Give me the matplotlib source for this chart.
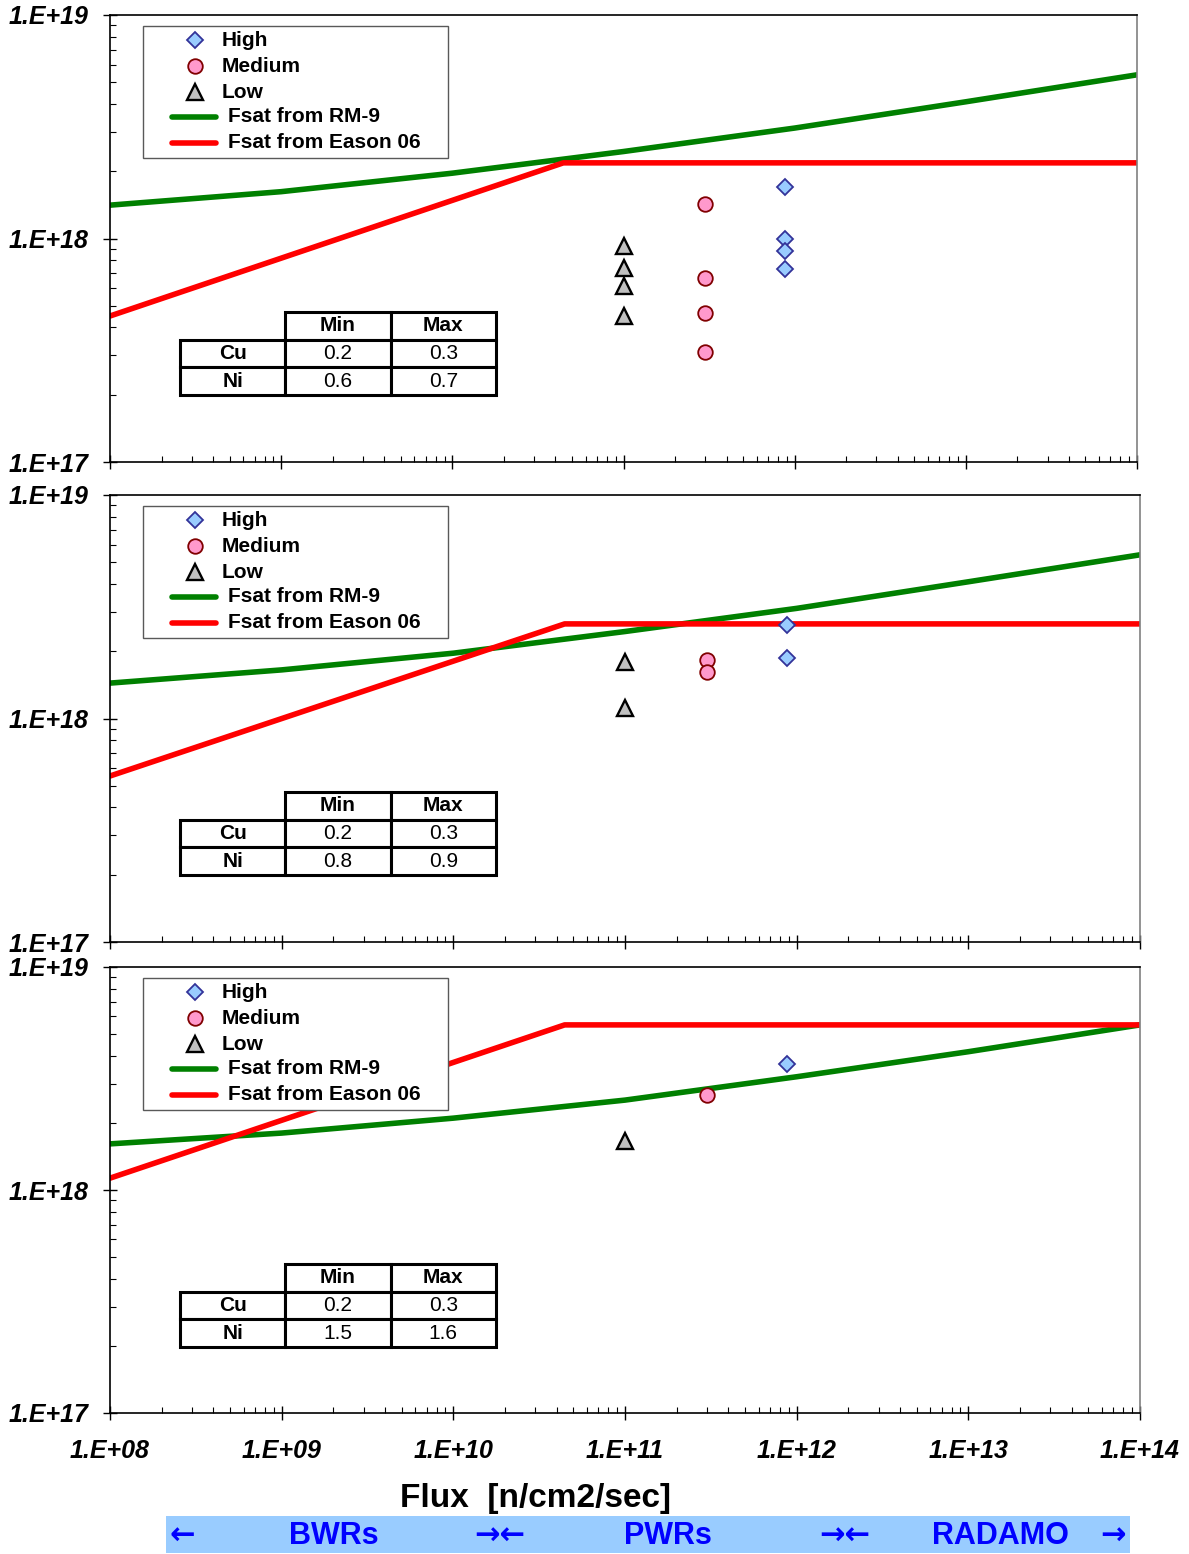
import math
import matplotlib
matplotlib.use("Agg")
import matplotlib.pyplot as plt
from matplotlib.lines import Line2D
from matplotlib.patches import Rectangle
from matplotlib.ticker import LogLocator, NullFormatter, FuncFormatter, FixedLocator

plt.rcParams["font.family"] = ["Liberation Sans", "DejaVu Sans"]

# --- data ---------------------------------------------------------------
flux_decades = [1e8, 1e9, 1e10, 1e11, 1e12, 1e13, 1e14]
fsat_decades = [1e17, 1e18, 1e19]
rm9_top = [1.41e18, 1.62e18, 1.96e18, 2.45e18, 3.12e18, 4.09e18, 5.40e18]
rm9_mid = [1.44e18, 1.65e18, 1.96e18, 2.45e18, 3.11e18, 4.09e18, 5.40e18]
rm9_bot = [1.61e18, 1.80e18, 2.10e18, 2.53e18, 3.22e18, 4.17e18, 5.50e18]

eason_flux = [1e8, 4.45e10, 1e14]
eason_top = [4.5e17, 2.18e18, 2.18e18]
eason_mid = [5.53e17, 2.65e18, 2.65e18]
eason_bot = [1.13e18, 5.5e18, 5.5e18]

high_flux, med_flux, low_flux = 8.8e11, 3.0e11, 1.0e11
high_top = [1.70e18, 1.00e18, 8.8e17, 7.3e17]
med_top = [1.43e18, 6.66e17, 4.64e17, 3.11e17]
low_top = [9.25e17, 7.38e17, 6.13e17, 4.5e17]
high_mid = [2.62e18, 1.87e18]
med_mid = [1.83e18, 1.62e18]
low_mid = [1.79e18, 1.11e18]
high_bot = [3.67e18]
med_bot = [2.67e18]
low_bot = [1.66e18]

cu_range = ["0.2", "0.3"]
ni_top = ["0.6", "0.7"]
ni_mid = ["0.8", "0.9"]
ni_bot = ["1.5", "1.6"]

legend_labels = ["High", "Medium", "Low", "Fsat from RM-9", "Fsat from Eason 06"]

panels = [
    (rm9_top, eason_top, high_top, med_top, low_top, ni_top),
    (rm9_mid, eason_mid, high_mid, med_mid, low_mid, ni_mid),
    (rm9_bot, eason_bot, high_bot, med_bot, low_bot, ni_bot),
]

# --- figure -------------------------------------------------------------
W, H = 1189, 1554
fig = plt.figure(figsize=(W / 100, H / 100), dpi=100)


def fx(px):
    return px / W


def fy(py):
    return 1 - py / H


# pixel boxes (left, top, right, bottom)
boxes = [(110, 15, 1137, 462), (110, 495, 1140, 942), (110, 967, 1140, 1413)]

green = "#008000"
red = "#FF0000"
tick_font = dict(fontsize=18, fontweight="bold", fontstyle="italic")
styles = {
    "High": dict(marker="D", ms=8.5, mfc="#99CCFF", mec="#333399", mew=1.3),
    "Medium": dict(marker="o", ms=10.5, mfc="#FF99CC", mec="#800000", mew=1.3),
    "Low": dict(marker="^", ms=11.5, mfc="#C0C0C0", mec="black", mew=1.7),
}


def fmt(v, pos):
    return "1.E+%02d" % round(math.log10(v))


for i, ((l, t, r, b), (rm9, eason, hi, me, lo, ni)) in enumerate(zip(boxes, panels)):
    ax = fig.add_axes([fx(l), fy(b), (r - l) / W, (b - t) / H])
    ax.set_xscale("log")
    ax.set_yscale("log")
    ax.set_xlim(1e8, 1e14)
    ax.set_ylim(1e17, 1e19)

    ax.plot(flux_decades, rm9, color=green, lw=4, solid_capstyle="round", zorder=2)
    ax.plot(eason_flux, eason, color=red, lw=4, solid_capstyle="round", zorder=2)

    ax.plot([high_flux] * len(hi), hi, ls="none", zorder=4, **styles["High"])
    ax.plot([med_flux] * len(me), me, ls="none", zorder=4, **styles["Medium"])
    ax.plot([low_flux] * len(lo), lo, ls="none", zorder=4, **styles["Low"])

    # axes styling
    for s in ["left", "top", "bottom"]:
        ax.spines[s].set_linewidth(1.2)
        ax.spines[s].set_color("black")
    ax.spines["right"].set_color("0.5")
    ax.spines["right"].set_linewidth(1.2)

    ax.xaxis.set_major_locator(FixedLocator(flux_decades))
    ax.xaxis.set_minor_locator(LogLocator(base=10, subs=range(2, 10), numticks=100))
    ax.yaxis.set_major_locator(FixedLocator(fsat_decades))
    ax.yaxis.set_minor_locator(LogLocator(base=10, subs=range(2, 10), numticks=100))
    ax.xaxis.set_minor_formatter(NullFormatter())
    ax.yaxis.set_minor_formatter(NullFormatter())
    ax.yaxis.set_major_formatter(FuncFormatter(fmt))
    ax.xaxis.set_major_formatter(FuncFormatter(fmt))
    ax.tick_params(which="major", direction="inout", length=9.6, width=1.0, color="black")
    ax.tick_params(which="minor", direction="in", length=4.3, width=0.8, color="black")
    ax.tick_params(axis="y", which="major", pad=11)
    ax.tick_params(axis="x", which="major", pad=14)
    for lab in ax.get_yticklabels():
        lab.set(**tick_font)
    if i == 2:
        for lab in ax.get_xticklabels():
            lab.set(**tick_font)
    else:
        ax.tick_params(axis="x", labelbottom=False)

    # legend box, drawn by hand to follow the original spacing
    fig.patches.append(Rectangle((fx(143), fy(t + 143)), (448 - 143) / W, 132 / H,
                                 transform=fig.transFigure, facecolor="white",
                                 edgecolor="0.35", lw=1.0, zorder=5))
    rows = [t + 25, t + 51, t + 77, t + 102, t + 128]
    for name, ry in zip(legend_labels[:3], rows[:3]):
        fig.add_artist(Line2D([fx(195)], [fy(ry)], ls="none", transform=fig.transFigure,
                              zorder=6, **styles[name]))
        fig.text(fx(222), fy(ry), name, ha="left", va="center", fontsize=15,
                 fontweight="bold", zorder=6)
    for name, ry, col in zip(legend_labels[3:], rows[3:], [green, red]):
        fig.add_artist(Line2D([fx(172), fx(216)], [fy(ry), fy(ry)], color=col, lw=4,
                              solid_capstyle="round", transform=fig.transFigure, zorder=6))
        fig.text(fx(228), fy(ry), name, ha="left", va="center", fontsize=15,
                 fontweight="bold", zorder=6)

    # composition table
    cell_text = [["", "Min", "Max"], ["Cu"] + cu_range, ["Ni"] + ni]
    tx0 = (180 - l) / (r - l)
    tw = (496 - 180) / (r - l)
    ty0 = (b - (t + 380)) / (b - t)
    th = 83 / (b - t)
    tbl = ax.table(cellText=cell_text, bbox=[tx0, ty0, tw, th], cellLoc="center")
    tbl.auto_set_font_size(False)
    tbl.set_fontsize(15)
    tbl.set_zorder(6)
    for (rr, cc), cell in tbl.get_celld().items():
        cell.set_linewidth(2.2)
        cell.set_edgecolor("black")
        cell.set_facecolor("white")
        if rr == 0 and cc == 0:
            cell.visible_edges = ""
            cell.set_facecolor("none")
        if rr == 0 or cc == 0:
            cell.get_text().set_fontweight("bold")

# x label
fig.text(fx(535), fy(1498), "Flux  [n/cm2/sec]", ha="center", va="center",
         fontsize=24, fontweight="bold")

# reactor range bar
fig.patches.append(Rectangle((fx(166), fy(1553)), (1130 - 166) / W, 37 / H,
                             transform=fig.transFigure, facecolor="#99CCFF",
                             edgecolor="none", zorder=0))
bar_y = fy(1536)
word_font = dict(fontsize=22, fontweight="bold", color="#0000FF", ha="center", va="center")
arrow_font = dict(fontsize=22, fontweight="bold", color="#0000FF", ha="center",
                  va="center", family="DejaVu Sans")
for px, s in [(334, "BWRs"), (668, "PWRs"), (1000, "RADAMO")]:
    fig.text(fx(px), bar_y, s, **word_font)
for px, s in [(182, "\u2190"), (500, "\u2192\u2190"), (845, "\u2192\u2190"), (1113, "\u2192")]:
    fig.text(fx(px), bar_y, s, **arrow_font)

fig.savefig("out.png", dpi=100)
